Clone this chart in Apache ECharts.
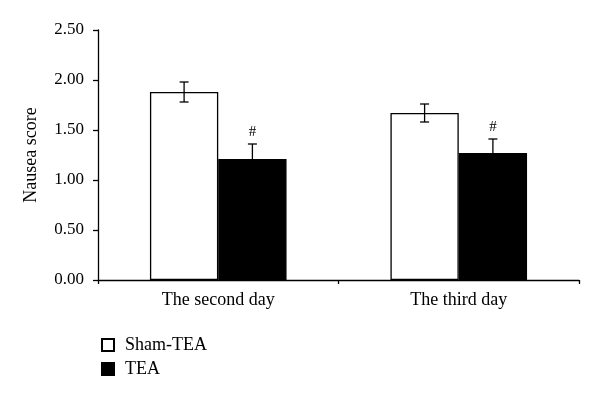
<!DOCTYPE html>
<html>
<head>
<meta charset="utf-8">
<script src="https://cdn.jsdelivr.net/npm/echarts@6/dist/echarts.min.js"></script>
<style>html,body{margin:0;padding:0;background:#fff;}#c{width:600px;height:402px;}</style>
</head>
<body>
<div id="c"></div>
<script>
var categories = ['The second day', 'The third day'];
var shamValues = [1.88, 1.67];
var shamErrors = [0.10, 0.09];
var teaValues = [1.21, 1.27];
var teaErrors = [0.15, 0.14];
var yTicks = ['0.00', '0.50', '1.00', '1.50', '2.00', '2.50'];

var FONT = '"Liberation Serif", "DejaVu Serif", serif';
var BAR_FRAC = 0.284;

function errData(vals, errs, side) {
  return vals.map(function (v, i) { return [i, v, errs[i], side]; });
}

function renderErr(params, api) {
  var idx = api.value(0), v = api.value(1), e = api.value(2), side = api.value(3);
  var band = api.size([1, 0])[0];
  var bw = band * BAR_FRAC;
  var base = api.coord([idx, v]);
  var x = base[0] + side * bw / 2;
  var top = api.coord([idx, v + e])[1];
  var bot = api.coord([idx, v - e])[1];
  var cap = 4.5;
  var st = { stroke: '#000', lineWidth: 1.3 };
  var children = [];
  if (side < 0) {
    children.push({ type: 'line', shape: { x1: x, y1: top, x2: x, y2: bot }, style: st });
    children.push({ type: 'line', shape: { x1: x - cap, y1: top, x2: x + cap, y2: top }, style: st });
    children.push({ type: 'line', shape: { x1: x - cap, y1: bot, x2: x + cap, y2: bot }, style: st });
  } else {
    children.push({ type: 'line', shape: { x1: x, y1: top, x2: x, y2: base[1] }, style: st });
    children.push({ type: 'line', shape: { x1: x - cap, y1: top, x2: x + cap, y2: top }, style: st });
    children.push({ type: 'text', style: { text: '#', x: x, y: top - 4, textAlign: 'center', textVerticalAlign: 'bottom', font: '15px ' + FONT, fill: '#000' } });
  }
  return { type: 'group', children: children };
}

var chart = echarts.init(document.getElementById('c'));
chart.setOption({
  animation: false,
  backgroundColor: '#fff',
  grid: { left: 98, right: 21, top: 30, bottom: 122 },
  legend: {
    orient: 'vertical', left: 96, top: 331, itemWidth: 12, itemHeight: 12, itemGap: 6,
    icon: 'rect',
    textStyle: { fontFamily: FONT, fontSize: 18, color: '#000', padding: [0, 0, 0, 6] },
    data: ['Sham-TEA', 'TEA']
  },
  xAxis: {
    type: 'category', data: categories,
    axisLine: { lineStyle: { color: '#000', width: 1.3 } },
    axisTick: { show: true, length: 4, lineStyle: { color: '#000', width: 1.3 } },
    axisLabel: { fontFamily: FONT, fontSize: 18, color: '#000', margin: 11 }
  },
  yAxis: {
    type: 'value', min: 0, max: 2.5, interval: 0.5,
    name: 'Nausea score', nameLocation: 'middle', nameGap: 58,
    nameTextStyle: { fontFamily: FONT, fontSize: 18, color: '#000' },
    axisLine: { show: true, lineStyle: { color: '#000', width: 1.3 } },
    axisTick: { show: true, length: 5, lineStyle: { color: '#000', width: 1.3 } },
    splitLine: { show: false },
    axisLabel: { fontFamily: FONT, fontSize: 17, color: '#000', margin: 14,
      formatter: function (v) { return yTicks[Math.round(v / 0.5)]; } }
  },
  series: [
    { name: 'Sham-TEA', type: 'bar', data: shamValues, barWidth: (BAR_FRAC * 100) + '%', barGap: '0%',
      itemStyle: { color: '#fff', borderColor: '#000', borderWidth: 1.3 } },
    { name: 'TEA', type: 'bar', data: teaValues, barWidth: (BAR_FRAC * 100) + '%', barGap: '0%',
      itemStyle: { color: '#000', borderColor: '#000', borderWidth: 1.3 } },
    { type: 'custom', renderItem: renderErr, data: errData(shamValues, shamErrors, -1), z: 10, silent: true },
    { type: 'custom', renderItem: renderErr, data: errData(teaValues, teaErrors, 1), z: 10, silent: true }
  ]
});
</script>
</body>
</html>
